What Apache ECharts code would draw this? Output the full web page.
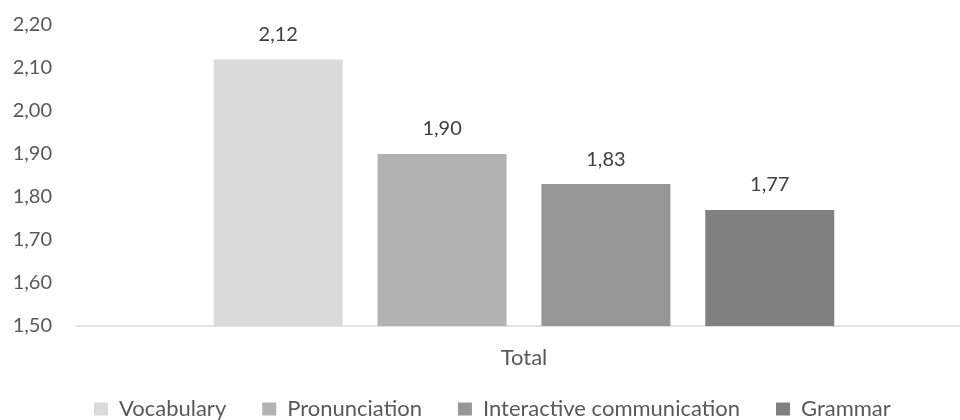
<!DOCTYPE html>
<html>
<head>
<meta charset="utf-8">
<script src="https://cdn.jsdelivr.net/npm/echarts@6/dist/echarts.min.js"></script>
<style>
  html, body { margin: 0; padding: 0; background: #ffffff; }
  #chart { width: 960px; height: 420px; }
</style>
</head>
<body>
<div id="chart"></div>
<script>
// Chart data
const categories = ['Total'];
const seriesNames = ['Vocabulary', 'Pronunciation', 'Interactive communication', 'Grammar'];
const seriesValues = [[2.12], [1.90], [1.83], [1.77]];
const seriesColors = ['#dadada', '#b2b2b2', '#969696', '#808080'];
const yMin = 1.5, yMax = 2.2, yStep = 0.1;

const FONT = 'Lato, "Open Sans", sans-serif';
const fmt = v => Number(v).toFixed(2).replace('.', ',');

const chart = echarts.init(document.getElementById('chart'), null, { renderer: 'canvas' });

chart.setOption({
  animation: false,
  backgroundColor: '#ffffff',
  textStyle: { fontFamily: FONT },
  // plot area runs slightly past the right edge of the canvas
  grid: { left: 76, width: 896, top: 25, bottom: 94, containLabel: false, outerBoundsMode: 'none' },
  legend: {
    data: seriesNames,
    left: 94,
    top: 398,
    padding: 0,
    itemWidth: 14,
    itemHeight: 13,
    itemGap: 36,
    icon: 'rect',
    textStyle: { fontFamily: FONT, fontSize: 22, color: '#595959', padding: [0, 0, 0, 6] }
  },
  xAxis: {
    type: 'category',
    data: categories,
    axisLine: { lineStyle: { color: '#d9d9d9', width: 1.5 } },
    axisTick: { show: false },
    axisLabel: { fontFamily: FONT, fontSize: 22, color: '#595959', margin: 21 }
  },
  yAxis: {
    type: 'value',
    min: yMin,
    max: yMax,
    interval: yStep,
    axisLine: { show: false },
    axisTick: { show: false },
    splitLine: { show: false },
    axisLabel: { fontFamily: FONT, fontSize: 20, color: '#595959', margin: 24, formatter: fmt }
  },
  series: seriesNames.map((name, i) => ({
    name,
    type: 'bar',
    data: seriesValues[i],
    barWidth: 129,
    barGap: '27%',
    itemStyle: { color: seriesColors[i] },
    label: {
      show: true,
      position: 'top',
      distance: 15,
      fontFamily: FONT,
      fontSize: 20,
      color: '#404040',
      formatter: p => fmt(p.value)
    }
  }))
});
</script>
</body>
</html>
